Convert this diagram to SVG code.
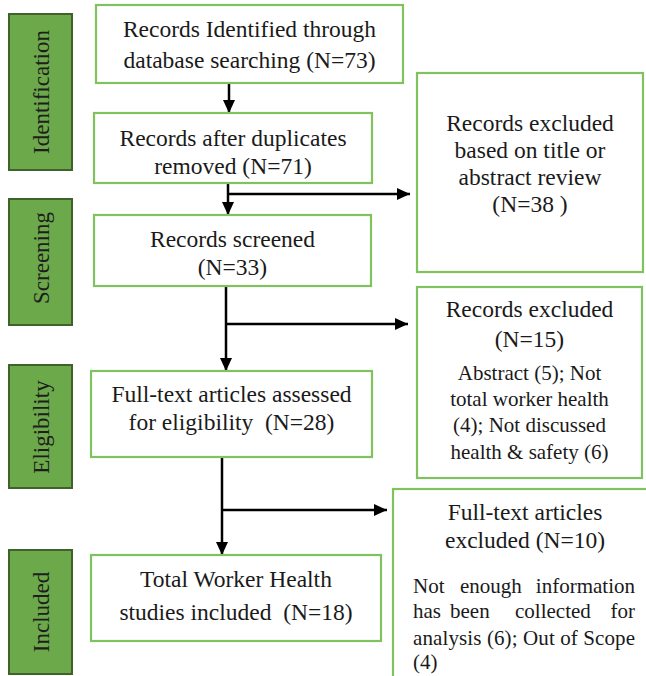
<svg xmlns="http://www.w3.org/2000/svg" width="646" height="676" viewBox="0 0 646 676">
<defs>
<style>
.side{fill:#6ca94b;stroke:#3e6229;stroke-width:2}
.box{fill:#fff;stroke:#80c25d;stroke-width:2.2}
.t,.s,.j,.lab{font-family:'Liberation Serif','Times New Roman',serif;fill:#1a1a1a}
.t{font-size:23.5px;text-anchor:middle}
.s{font-size:21px;text-anchor:middle}
.j{font-size:21px}
.lab{font-size:23px;fill:#1e1e1e;text-anchor:middle}
.ln{fill:none;stroke:#000;stroke-width:2.5}
</style>
<marker id="ah" viewBox="0 0 13 12" refX="13" refY="6" markerWidth="13" markerHeight="12" markerUnits="userSpaceOnUse" orient="auto">
<path d="M0,0 L13,6 L0,12 Z" fill="#000"/>
</marker>
</defs>
<rect width="646" height="676" fill="#fff"/>

<g id="side-identification">
<rect class="side" x="9" y="14" width="63" height="156"/>
<text class="lab" transform="translate(49,92) rotate(-90)">Identification</text>
</g>
<g id="side-screening">
<rect class="side" x="9" y="199" width="63" height="126"/>
<text class="lab" transform="translate(49,258) rotate(-90)">Screening</text>
</g>
<g id="side-eligibility">
<rect class="side" x="9" y="365" width="63" height="123"/>
<text class="lab" transform="translate(49,427) rotate(-90)">Eligibility</text>
</g>
<g id="side-included">
<rect class="side" x="9" y="550" width="63" height="124"/>
<text class="lab" transform="translate(49,612) rotate(-90)">Included</text>
</g>

<g id="connectors">
<line class="ln" x1="229" y1="83" x2="229" y2="113" marker-end="url(#ah)"/>
<line class="ln" x1="228" y1="183" x2="228" y2="215" marker-end="url(#ah)"/>
<line class="ln" x1="228" y1="194" x2="410" y2="194" marker-end="url(#ah)"/>
<line class="ln" x1="226" y1="286" x2="226" y2="371" marker-end="url(#ah)"/>
<line class="ln" x1="226" y1="324" x2="408" y2="324" marker-end="url(#ah)"/>
<line class="ln" x1="222" y1="457" x2="222" y2="555" marker-end="url(#ah)"/>
<line class="ln" x1="222" y1="510" x2="387" y2="510" marker-end="url(#ah)"/>
</g>

<g id="identified">
<rect class="box" x="96" y="5" width="307" height="78"/>
<text class="t" x="249.5" y="37">Records Identified through</text>
<text class="t" x="249.5" y="68">database searching (N=73)</text>
</g>
<g id="dedup">
<rect class="box" x="94" y="113" width="278" height="70"/>
<text class="t" x="233" y="146">Records after duplicates</text>
<text class="t" x="233" y="174">removed (N=71)</text>
</g>
<g id="screened">
<rect class="box" x="94" y="215" width="277" height="71"/>
<text class="t" x="232.5" y="247">Records screened</text>
<text class="t" x="232.5" y="275">(N=33)</text>
</g>
<g id="fulltext">
<rect class="box" x="91" y="371" width="281" height="86"/>
<text class="t" x="231.5" y="402">Full-text articles assessed</text>
<text class="t" x="231.5" y="430" xml:space="preserve">for eligibility  (N=28)</text>
</g>
<g id="included">
<rect class="box" x="91" y="555" width="290" height="86"/>
<text class="t" x="236" y="587">Total Worker Health</text>
<text class="t" x="236" y="620" xml:space="preserve">studies included  (N=18)</text>
</g>

<g id="excluded-title">
<rect class="box" x="417" y="73" width="226" height="199"/>
<text class="t" x="530" y="131">Records excluded</text>
<text class="t" x="530" y="158">based on title or</text>
<text class="t" x="530" y="185">abstract review</text>
<text class="t" x="530" y="212" xml:space="preserve">(N=38 )</text>
</g>
<g id="excluded-records">
<rect class="box" x="417" y="287" width="225" height="191"/>
<text class="t" x="529.5" y="317">Records excluded</text>
<text class="t" x="529.5" y="347">(N=15)</text>
<text class="s" x="529.5" y="380">Abstract (5); Not</text>
<text class="s" x="529.5" y="406">total worker health</text>
<text class="s" x="529.5" y="432">(4); Not discussed</text>
<text class="s" x="529.5" y="459">health &amp; safety (6)</text>
</g>
<g id="excluded-fulltext">
<rect class="box" x="393" y="489" width="270" height="200"/>
<text class="t" x="525" y="520">Full-text articles</text>
<text class="t" x="525" y="548">excluded (N=10)</text>
<text class="j" x="413" y="593">Not</text>
<text class="j" x="460" y="593">enough</text>
<text class="j" x="635" y="593" text-anchor="end">information</text>
<text class="j" x="413" y="618">has</text>
<text class="j" x="450" y="618">been</text>
<text class="j" x="515" y="618">collected</text>
<text class="j" x="635" y="618" text-anchor="end">for</text>
<text class="j" x="413" y="645" textLength="222" lengthAdjust="spacing">analysis (6); Out of Scope</text>
<text class="j" x="413" y="669">(4)</text>
</g>
</svg>
